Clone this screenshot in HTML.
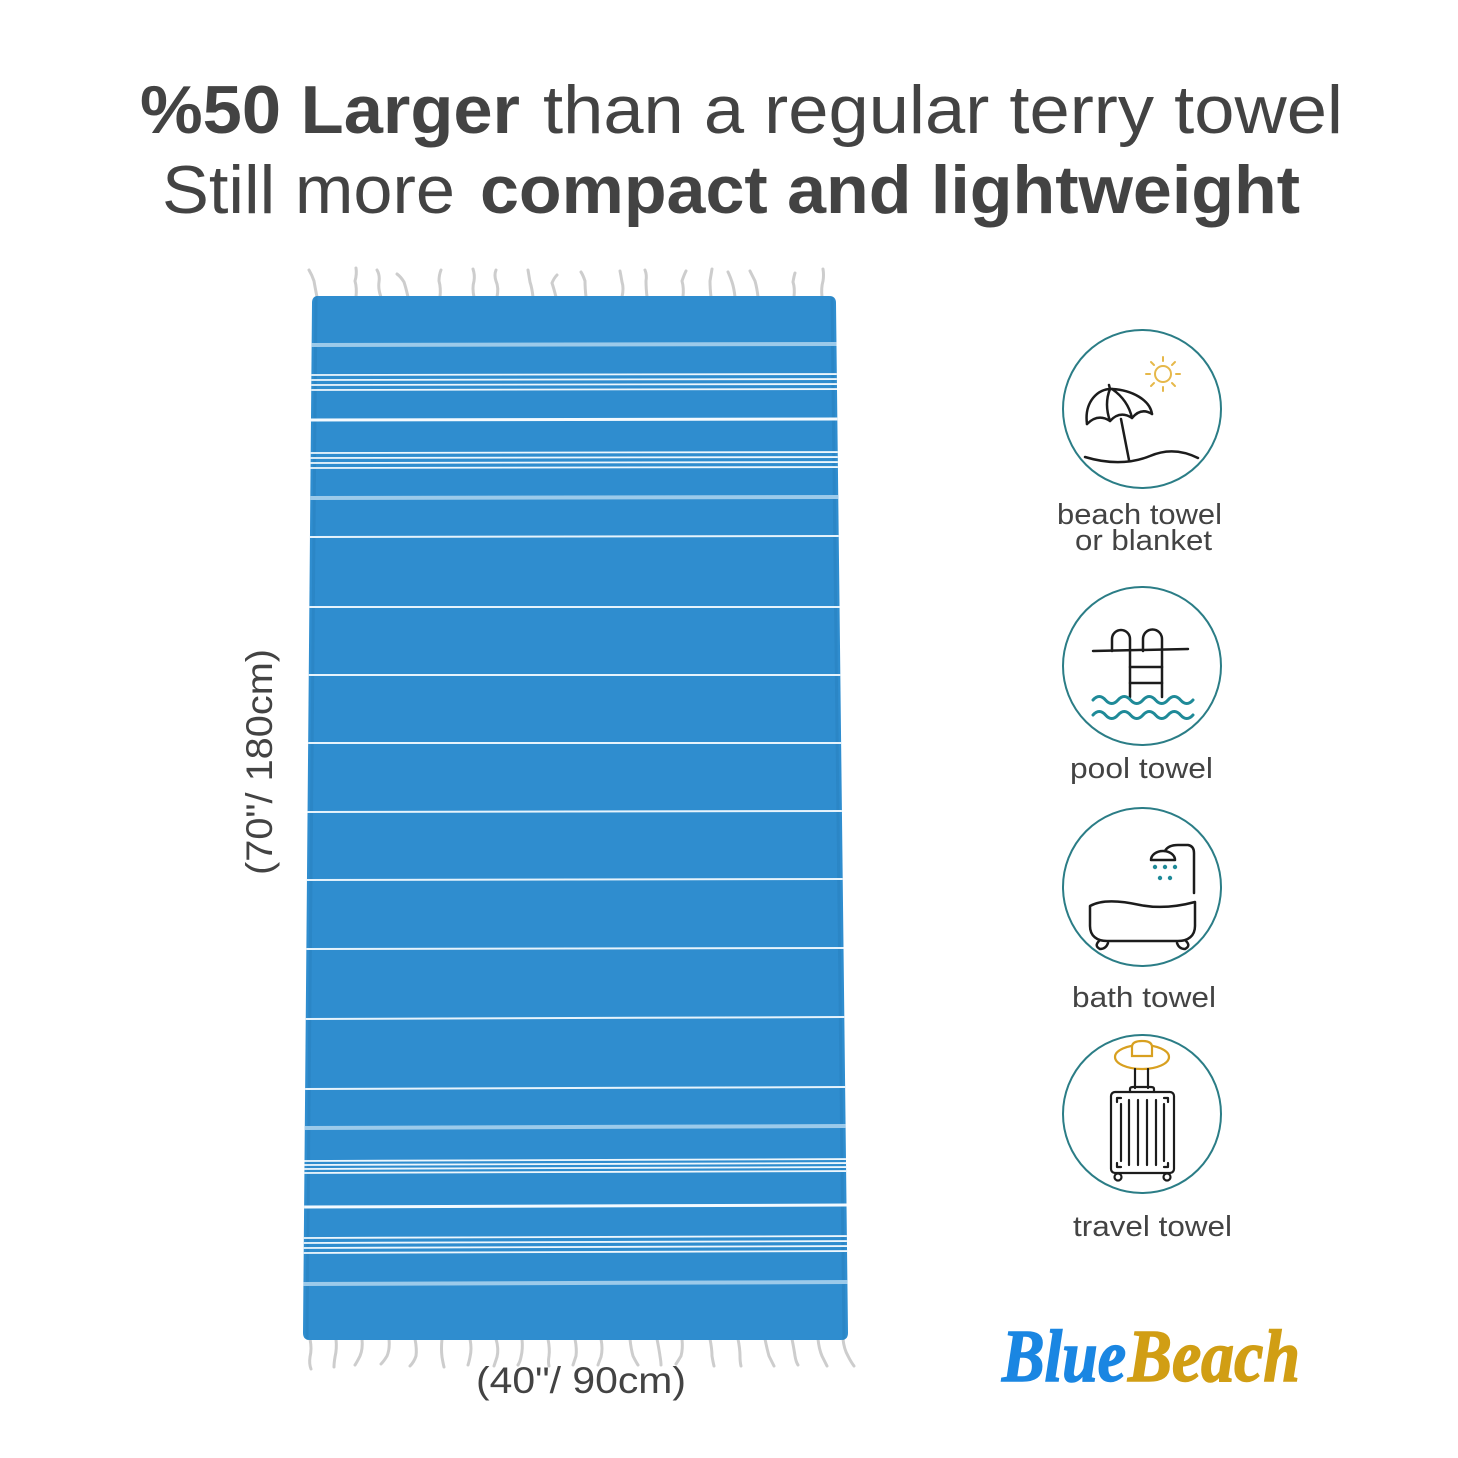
<!DOCTYPE html>
<html><head><meta charset="utf-8"><style>
html,body{margin:0;padding:0;background:#fff;}
svg{display:block;}
text{font-family:"Liberation Sans",sans-serif;fill:#434343;}
</style></head><body>
<svg width="1458" height="1458" viewBox="0 0 1458 1458" xmlns="http://www.w3.org/2000/svg">
<rect width="1458" height="1458" fill="#fff"/>
<!-- Title -->
<text x="140" y="133" font-size="68" font-weight="bold" textLength="380" lengthAdjust="spacingAndGlyphs">%50 Larger</text>
<text x="543" y="133" font-size="68" textLength="800" lengthAdjust="spacingAndGlyphs">than a regular terry towel</text>
<text x="162" y="213" font-size="68" textLength="293" lengthAdjust="spacingAndGlyphs">Still more</text>
<text x="480" y="213" font-size="68" font-weight="bold" textLength="820" lengthAdjust="spacingAndGlyphs">compact and lightweight</text>

<!-- Towel -->
<defs>
<clipPath id="tw"><path d="M318,296 L829,296 Q836,296 836,303 L848,1333 Q848,1340 841,1340 L310,1340 Q303,1340 303,1333 L312,303 Q312,296 318,296 Z"/></clipPath>
</defs>
<!-- fringes top -->
<g stroke="#cdcdcd" stroke-width="3" fill="none" stroke-linecap="round">
<path d="M317,297 q-2,-10 -3,-16 q-2,-6 -5,-11"/>
<path d="M356,297 q1,-9 -1,-16 q2,-7 1,-13"/>
<path d="M381,297 q-3,-8 -2,-15 q1,-7 -2,-12"/>
<path d="M408,297 q-2,-9 -4,-15 q-3,-5 -7,-8"/>
<path d="M440,297 q1,-9 -1,-16 q0,-6 2,-11"/>
<path d="M474,297 q-2,-9 0,-16 q1,-6 -1,-12"/>
<path d="M497,297 q2,-9 -1,-16 q-2,-6 0,-11"/>
<path d="M533,297 q-1,-9 -3,-15 q-1,-6 -2,-12"/>
<path d="M556,297 q-2,-8 -4,-14 q2,-5 5,-8"/>
<path d="M586,297 q-1,-9 -1,-16 q-2,-6 -4,-9"/>
<path d="M622,297 q2,-9 0,-15 q-1,-6 -2,-11"/>
<path d="M647,297 q-1,-9 -1,-16 q1,-6 -1,-11"/>
<path d="M683,297 q1,-9 -1,-16 q2,-6 4,-10"/>
<path d="M711,297 q-1,-9 -1,-16 q1,-6 2,-12"/>
<path d="M735,297 q-1,-9 -3,-15 q-2,-6 -4,-10"/>
<path d="M758,297 q-1,-9 -3,-16 q-3,-6 -5,-10"/>
<path d="M794,297 q1,-9 -1,-15 q1,-6 2,-9"/>
<path d="M822,297 q-1,-9 1,-16 q1,-6 0,-12"/>
</g>
<!-- fringes bottom -->
<g stroke="#cdcdcd" stroke-width="3" fill="none" stroke-linecap="round">
<path d="M310,1339 q2,10 0,18 q-1,7 1,12"/>
<path d="M336,1339 q1,10 -1,18 q-1,6 -1,10"/>
<path d="M362,1339 q1,10 -2,17 q-3,6 -5,9"/>
<path d="M389,1339 q1,10 -2,17 q-3,5 -6,8"/>
<path d="M415,1339 q2,10 1,17 q-2,6 -6,10"/>
<path d="M442,1339 q-1,10 0,18 q1,6 2,10"/>
<path d="M470,1339 q2,10 0,18 q-1,5 -2,8"/>
<path d="M496,1339 q3,10 1,18 q-2,6 -3,9"/>
<path d="M522,1339 q1,10 -1,18 q-1,5 -3,8"/>
<path d="M548,1339 q2,10 1,17 q-1,6 0,10"/>
<path d="M575,1339 q2,10 1,17 q-2,6 -3,9"/>
<path d="M601,1339 q2,10 0,18 q-2,5 -3,8"/>
<path d="M630,1339 q1,10 3,17 q3,6 5,9"/>
<path d="M657,1339 q2,10 3,17 q1,6 1,9"/>
<path d="M682,1339 q1,10 -1,17 q-3,5 -5,8"/>
<path d="M710,1339 q2,10 2,17 q1,6 2,10"/>
<path d="M738,1339 q2,10 2,17 q0,6 1,10"/>
<path d="M765,1339 q2,10 4,17 q3,6 5,10"/>
<path d="M792,1339 q2,10 3,17 q1,6 3,9"/>
<path d="M818,1339 q1,10 4,17 q3,6 5,10"/>
<path d="M843,1339 q1,10 5,17 q3,6 6,10"/>
</g>
<g clip-path="url(#tw)">
<rect x="300" y="290" width="560" height="1060" fill="#2f8dcf"/>
<!-- hems -->
<path d="M316,296 L307,1340" stroke="#2b86c6" stroke-width="3"/>
<path d="M832,296 L844,1340" stroke="#2b86c6" stroke-width="3"/>
<g stroke="#9ccaea" stroke-width="4">
<line x1="300" y1="345" x2="860" y2="344"/>
<line x1="300" y1="498" x2="860" y2="497"/>
<line x1="300" y1="1128" x2="860" y2="1126"/>
<line x1="300" y1="1284" x2="860" y2="1282"/>
</g>
<g stroke="#eef7fd" stroke-width="1.8">
<line x1="300" y1="375" x2="860" y2="374"/>
<line x1="300" y1="380" x2="860" y2="379"/>
<line x1="300" y1="385" x2="860" y2="384"/>
<line x1="300" y1="390" x2="860" y2="389"/>
<line x1="300" y1="453" x2="860" y2="452"/>
<line x1="300" y1="458" x2="860" y2="457"/>
<line x1="300" y1="463" x2="860" y2="462"/>
<line x1="300" y1="468" x2="860" y2="467"/>
<line x1="300" y1="1161" x2="860" y2="1159"/>
<line x1="300" y1="1165" x2="860" y2="1163"/>
<line x1="300" y1="1169" x2="860" y2="1167"/>
<line x1="300" y1="1173" x2="860" y2="1171"/>
<line x1="300" y1="1238" x2="860" y2="1236"/>
<line x1="300" y1="1243" x2="860" y2="1241"/>
<line x1="300" y1="1248" x2="860" y2="1246"/>
<line x1="300" y1="1253" x2="860" y2="1251"/>
</g>
<g stroke="#f4faff" stroke-width="3">
<line x1="300" y1="420" x2="860" y2="419"/>
<line x1="300" y1="1207" x2="860" y2="1205"/>
</g>
<g stroke="#e6f3fc" stroke-width="2">
<line x1="300" y1="537" x2="860" y2="536"/>
<line x1="300" y1="607" x2="860" y2="607"/>
<line x1="300" y1="675" x2="860" y2="675"/>
<line x1="300" y1="743" x2="860" y2="743"/>
<line x1="300" y1="812" x2="860" y2="811"/>
<line x1="300" y1="880" x2="860" y2="879"/>
<line x1="300" y1="949" x2="860" y2="948"/>
<line x1="300" y1="1019" x2="860" y2="1017"/>
<line x1="300" y1="1089" x2="860" y2="1087"/>
</g>
</g>

<!-- dimensions -->
<text transform="translate(272,762) rotate(-90)" text-anchor="middle" font-size="37" textLength="226" lengthAdjust="spacingAndGlyphs">(70"/ 180cm)</text>
<text x="476" y="1393" font-size="37" textLength="210" lengthAdjust="spacingAndGlyphs">(40"/ 90cm)</text>

<!-- Icons circles -->
<g fill="none" stroke="#2b7d86" stroke-width="2">
<circle cx="1142" cy="409" r="79"/>
<circle cx="1142" cy="666" r="79"/>
<circle cx="1142" cy="887" r="79"/>
<circle cx="1142" cy="1114" r="79"/>
</g>

<!-- Beach icon -->
<g fill="none" stroke="#e6b84a" stroke-width="2" stroke-linecap="round">
<circle cx="1163" cy="374" r="8"/>
<line x1="1163" y1="361" x2="1163" y2="357"/><line x1="1163" y1="387" x2="1163" y2="391"/>
<line x1="1150" y1="374" x2="1146" y2="374"/><line x1="1176" y1="374" x2="1180" y2="374"/>
<line x1="1154" y1="365" x2="1151" y2="362"/><line x1="1172" y1="365" x2="1175" y2="362"/>
<line x1="1154" y1="383" x2="1151" y2="386"/><line x1="1172" y1="383" x2="1175" y2="386"/>
</g>
<g fill="none" stroke="#1c1c1c" stroke-width="2.5" stroke-linecap="round" stroke-linejoin="round">
<path d="M1087,424 C1084,402 1098,388 1112,389 C1132,390 1150,400 1152,414"/>
<path d="M1087,424 Q1098,413 1110,421 Q1120,410 1132,418 Q1141,407 1152,414"/>
<path d="M1110,389 Q1104,404 1110,421"/>
<path d="M1112,389 Q1128,400 1132,418"/>
<line x1="1110" y1="389" x2="1109" y2="385"/>
<line x1="1121" y1="419" x2="1129" y2="460"/>
<path d="M1085,457 C1105,463 1128,465 1150,456 C1166,449 1182,450 1198,458"/>
</g>

<!-- Pool icon -->
<g fill="none" stroke="#1c1c1c" stroke-width="2.5" stroke-linecap="round">
<line x1="1093" y1="651" x2="1188" y2="649"/>
<path d="M1112,651 L1112,639 A9,9 0 0 1 1130,639 L1130,697"/>
<path d="M1143,651 L1143,639 A9.5,9.5 0 0 1 1162,639 L1162,697"/>
<line x1="1130" y1="667" x2="1162" y2="667"/>
<line x1="1130" y1="683" x2="1162" y2="683"/>
</g>
<g fill="none" stroke="#1f8a98" stroke-width="3" stroke-linecap="round">
<path d="M1093,700 q6.25,-7 12.5,0 t12.5,0 t12.5,0 t12.5,0 t12.5,0 t12.5,0 t12.5,0 t12.5,0"/>
<path d="M1093,715 q6.25,-7 12.5,0 t12.5,0 t12.5,0 t12.5,0 t12.5,0 t12.5,0 t12.5,0 t12.5,0"/>
</g>

<!-- Bath icon -->
<g fill="none" stroke="#1c1c1c" stroke-width="2.5" stroke-linecap="round" stroke-linejoin="round">
<path d="M1090,906 C1102,899 1122,901 1140,905 C1160,909 1180,906 1195,902 L1195,926 C1195,936 1188,941 1178,941 L1107,941 C1097,941 1090,936 1090,926 Z"/>
<path d="M1099,941 Q1094,946 1100,949 Q1106,949 1108,943"/>
<path d="M1186,941 Q1191,946 1185,949 Q1179,949 1177,943"/>
<path d="M1151,860 A12,9 0 0 1 1175,860 Z"/>
<path d="M1165,851 Q1168,845 1178,845 L1188,845 Q1194,846 1194,853 L1194,893"/>
</g>
<g fill="#1f8a98">
<circle cx="1155" cy="867" r="2.2"/><circle cx="1165" cy="867" r="2.2"/><circle cx="1175" cy="867" r="2.2"/>
<circle cx="1160" cy="878" r="2.2"/><circle cx="1170" cy="878" r="2.2"/>
</g>

<!-- Travel icon -->
<g fill="none" stroke="#d8a020" stroke-width="2.2">
<ellipse cx="1142" cy="1057" rx="27" ry="12"/>
<path d="M1132,1056 L1132,1047 Q1132,1041 1142,1041 Q1152,1041 1152,1047 L1152,1056 Z" fill="#fff"/>
</g>
<g fill="none" stroke="#1c1c1c" stroke-width="2.2" stroke-linecap="round" stroke-linejoin="round">
<line x1="1135" y1="1069" x2="1135" y2="1088"/>
<line x1="1148" y1="1069" x2="1148" y2="1088"/>
<path d="M1130,1092 L1130,1089 Q1130,1087 1133,1087 L1151,1087 Q1154,1087 1154,1089 L1154,1092"/>
<rect x="1111" y="1092" width="63" height="81" rx="4"/>
<path d="M1117,1102 L1117,1098 L1121,1098"/><path d="M1168,1102 L1168,1098 L1164,1098"/>
<path d="M1117,1163 L1117,1167 L1121,1167"/><path d="M1168,1163 L1168,1167 L1164,1167"/>
<line x1="1121" y1="1104" x2="1121" y2="1161"/>
<line x1="1129" y1="1100" x2="1129" y2="1165"/>
<line x1="1138" y1="1100" x2="1138" y2="1165"/>
<line x1="1147" y1="1100" x2="1147" y2="1165"/>
<line x1="1156" y1="1100" x2="1156" y2="1165"/>
<line x1="1164" y1="1104" x2="1164" y2="1161"/>
<circle cx="1118" cy="1177" r="3.5"/>
<circle cx="1167" cy="1177" r="3.5"/>
</g>

<!-- Labels -->
<text x="1057" y="524" font-size="29" textLength="165" lengthAdjust="spacingAndGlyphs">beach towel</text>
<text x="1075" y="550" font-size="29" textLength="137" lengthAdjust="spacingAndGlyphs">or blanket</text>
<text x="1070" y="778" font-size="29" textLength="143" lengthAdjust="spacingAndGlyphs">pool towel</text>
<text x="1072" y="1007" font-size="29" textLength="144" lengthAdjust="spacingAndGlyphs">bath towel</text>
<text x="1073" y="1236" font-size="29" textLength="159" lengthAdjust="spacingAndGlyphs">travel towel</text>

<!-- Logo -->
<text x="1002" y="1381" font-style="italic" font-weight="bold" font-size="74" style="fill:#1a86e2;stroke:#1a86e2;stroke-width:1.5;font-family:'Liberation Serif',serif" textLength="124" lengthAdjust="spacingAndGlyphs">Blue</text>
<text x="1128" y="1381" font-style="italic" font-weight="bold" font-size="74" style="fill:#d19e14;stroke:#d19e14;stroke-width:1.5;font-family:'Liberation Serif',serif" textLength="172" lengthAdjust="spacingAndGlyphs">Beach</text>
</svg>
</body></html>
